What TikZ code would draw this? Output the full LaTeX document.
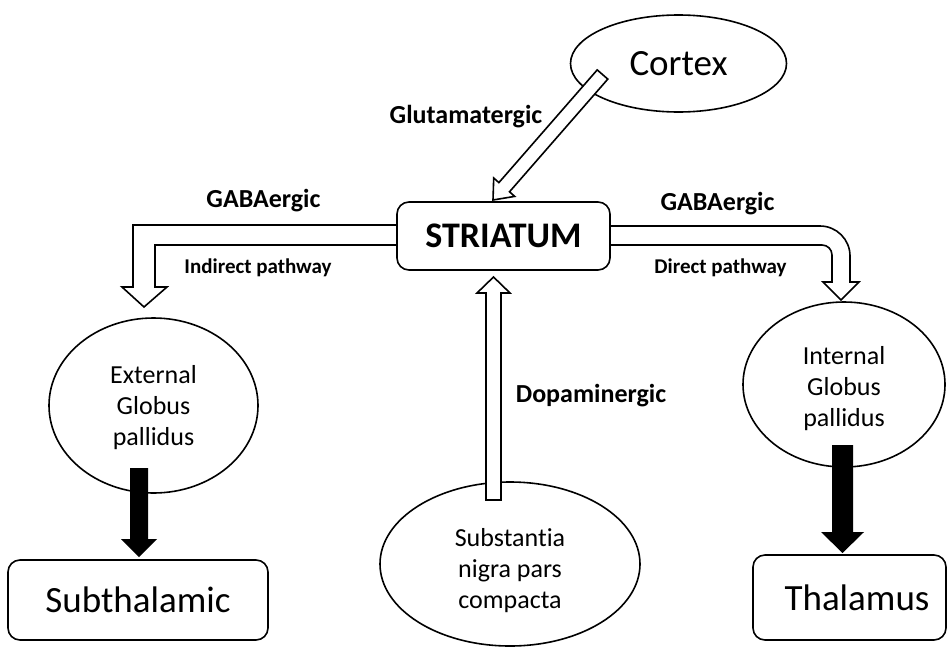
\documentclass[tikz,border=0pt]{standalone}
\usepackage{fontspec}
\setmainfont{Carlito}[Ligatures=NoCommon]
\usetikzlibrary{shapes.geometric}
\newcommand{\lowertext}[2]{\raisebox{-#1}[\height][\depth]{\begin{tabular}{@{}c@{}}#2\end{tabular}}}
\begin{document}
\begin{tikzpicture}[x=1pt,y=-1pt,
  oval/.style={draw, ellipse, line width=1.6pt, inner sep=0pt, fill=white, align=center, font=\fontsize{26}{31}\selectfont},
  box/.style={draw, rounded corners=12pt, line width=1.6pt, fill=white, inner sep=0pt},
  hollow/.style={draw, fill=white, line width=1.6pt, line join=miter},
  solid/.style={fill=black},
  lbl/.style={font=\bfseries\fontsize{26}{31}\selectfont, anchor=base, inner sep=0pt},
  slbl/.style={font=\bfseries\fontsize{21}{25}\selectfont, anchor=base, inner sep=0pt},
  big/.style={font=\fontsize{37}{44}\selectfont}]
\useasboundingbox (0,0) rectangle (947,648);

% ovals
\node[oval, big, minimum width=216pt, minimum height=97pt] (cortex) at (678.5,63.5) {Cortex};
\node[oval, minimum width=209pt, minimum height=175pt] (egp) at (153.5,405.5) {\lowertext{3pt}{External\\Globus\\pallidus}};
\node[oval, minimum width=202pt, minimum height=165pt] (igp) at (844,384.5) {\lowertext{5pt}{Internal\\Globus\\pallidus}};
\node[oval, minimum width=260pt, minimum height=164pt] (snc) at (510,564) {\lowertext{7pt}{Substantia\\nigra pars\\compacta}};

% hollow arrows
\draw[hollow] (420,225) -- (133,225) -- (133,287) -- (122,287) -- (144,307) -- (167,287) -- (155,287) -- (155,245) -- (420,245);
\draw[hollow] (590,226) -- (820,226) arc[start angle=-90, end angle=0, radius=30] -- (850,282) -- (859,282) -- (841,300) -- (823,282) -- (832,282) -- (832,255) arc[start angle=0, end angle=-90, radius=10] -- (590,245);
\draw[hollow] (597.2,69.9) -- (498.9,182.6) -- (493.7,178.0) -- (493,200) -- (514.7,196.4) -- (509.5,191.8) -- (607.8,79.1) -- cycle;
\draw[hollow] (486,500) -- (486,293) -- (477,293) -- (493.5,277) -- (510,293) -- (501,293) -- (501,500) -- cycle;

% solid arrows
\fill[solid] (130,468) -- (130,539) -- (121,539) -- (139,557) -- (157,539) -- (148,539) -- (148,468) -- cycle;
\fill[solid] (832,445) -- (832,532) -- (821,532) -- (842.5,553) -- (864,532) -- (853,532) -- (853,445) -- cycle;

% boxes
\node[box, minimum width=213pt, minimum height=68pt, font=\bfseries\fontsize{36}{42}\selectfont] (str) at (503.5,236) {STRIATUM};
\node[box, big, minimum width=260pt, minimum height=80pt] (sub) at (138,600) {Subthalamic};
\node[box, big, minimum width=193pt, minimum height=85pt] (thal) at (849.5,597.5) {\hspace*{15pt}Thalamus};

% labels
\node[lbl] (glu) at (466,123) {Glutamatergic};
\node[lbl] (gabal) at (263.5,207) {GABAergic};
\node[lbl] (gabar) at (717.5,210) {GABAergic};
\node[slbl] (ind) at (258,273) {Indirect pathway};
\node[slbl] (dir) at (720.5,273) {Direct pathway};
\node[lbl] (dopa) at (591,402) {Dopaminergic};
\end{tikzpicture}
\end{document}
